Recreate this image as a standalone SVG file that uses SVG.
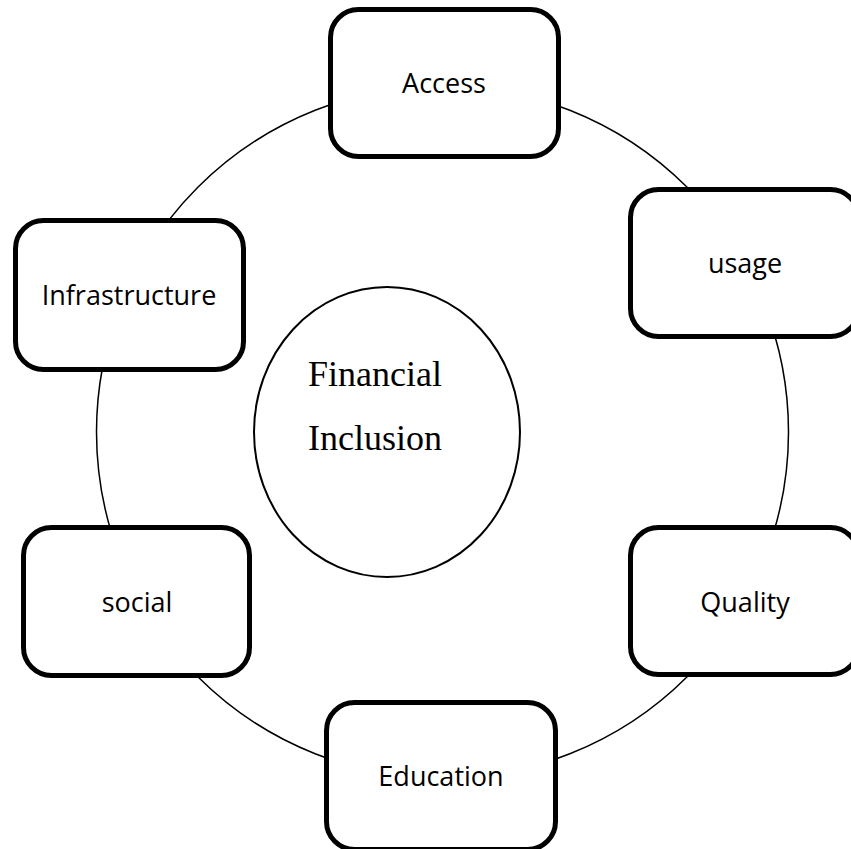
<svg xmlns="http://www.w3.org/2000/svg" width="851" height="849" viewBox="0 0 851 849">
  <style>
    .box { fill: #ffffff; stroke: #000000; stroke-width: 5; }
    .lbl { font-family: "Open Sans", "Liberation Sans", sans-serif; font-size: 27px; fill: #000000; text-anchor: middle; }
    .ring { fill: none; stroke: #000000; stroke-width: 1.5; }
    .core { fill: #ffffff; stroke: #000000; stroke-width: 2; }
    .core-lbl { font-family: "Liberation Serif", "Times New Roman", serif; font-size: 36px; fill: #000000; }
  </style>
  <rect width="851" height="849" fill="#ffffff"/>

  <!-- ring linking the six dimensions -->
  <g id="connectors">
    <circle class="ring" cx="442.5" cy="432" r="346"/>
  </g>

  <!-- central concept -->
  <g id="financial-inclusion">
    <ellipse class="core" cx="387" cy="432" rx="133" ry="145"/>
    <text class="core-lbl" x="308" y="386">Financial</text>
    <text class="core-lbl" x="308" y="450">Inclusion</text>
  </g>

  <g id="access">
    <rect class="box" x="330.5" y="9.5" width="228" height="147" rx="28" ry="28"/>
    <text class="lbl" x="444" y="93">Access</text>
  </g>

  <g id="usage">
    <rect class="box" x="630.5" y="189.5" width="228" height="147" rx="28" ry="28"/>
    <text class="lbl" x="745" y="273">usage</text>
  </g>

  <g id="quality">
    <rect class="box" x="630.5" y="527.5" width="228" height="147" rx="28" ry="28"/>
    <text class="lbl" x="745" y="612">Quality</text>
  </g>

  <g id="education">
    <rect class="box" x="326.5" y="702.5" width="229" height="147" rx="28" ry="28"/>
    <text class="lbl" x="441" y="786">Education</text>
  </g>

  <g id="social">
    <rect class="box" x="23.5" y="527.5" width="226" height="148" rx="28" ry="28"/>
    <text class="lbl" x="137" y="612">social</text>
  </g>

  <g id="infrastructure">
    <rect class="box" x="15.5" y="220.5" width="228" height="149" rx="28" ry="28"/>
    <text class="lbl" x="129" y="305">Infrastructure</text>
  </g>
</svg>
